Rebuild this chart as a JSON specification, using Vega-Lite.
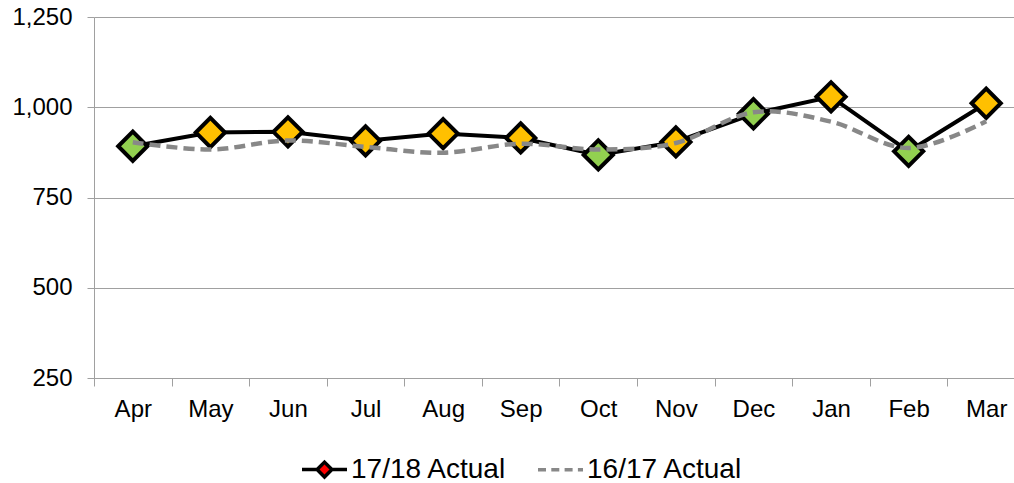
{
  "$schema": "https://vega.github.io/schema/vega-lite/v6.json",
  "width": 931,
  "height": 361,
  "autosize": {"type": "none"},
  "padding": {"left": 94, "top": 17, "right": -11, "bottom": 105},
  "background": "white",
  "config": {"view": {"stroke": null}, "font": "Liberation Sans"},
  "data": {
    "values": [
      {"month": "Apr", "series": "17/18 Actual", "value": 892, "vs_prior": "lower"},
      {"month": "May", "series": "17/18 Actual", "value": 930, "vs_prior": "higher"},
      {"month": "Jun", "series": "17/18 Actual", "value": 932, "vs_prior": "higher"},
      {"month": "Jul", "series": "17/18 Actual", "value": 907, "vs_prior": "higher"},
      {"month": "Aug", "series": "17/18 Actual", "value": 927, "vs_prior": "higher"},
      {"month": "Sep", "series": "17/18 Actual", "value": 915, "vs_prior": "higher"},
      {"month": "Oct", "series": "17/18 Actual", "value": 868, "vs_prior": "lower"},
      {"month": "Nov", "series": "17/18 Actual", "value": 904, "vs_prior": "higher"},
      {"month": "Dec", "series": "17/18 Actual", "value": 982, "vs_prior": "lower"},
      {"month": "Jan", "series": "17/18 Actual", "value": 1029, "vs_prior": "higher"},
      {"month": "Feb", "series": "17/18 Actual", "value": 878, "vs_prior": "lower"},
      {"month": "Mar", "series": "17/18 Actual", "value": 1011, "vs_prior": "higher"},
      {"month": "Apr", "series": "16/17 Actual", "value": 903},
      {"month": "May", "series": "16/17 Actual", "value": 883},
      {"month": "Jun", "series": "16/17 Actual", "value": 908},
      {"month": "Jul", "series": "16/17 Actual", "value": 890},
      {"month": "Aug", "series": "16/17 Actual", "value": 874},
      {"month": "Sep", "series": "16/17 Actual", "value": 899},
      {"month": "Oct", "series": "16/17 Actual", "value": 883},
      {"month": "Nov", "series": "16/17 Actual", "value": 901},
      {"month": "Dec", "series": "16/17 Actual", "value": 986},
      {"month": "Jan", "series": "16/17 Actual", "value": 960},
      {"month": "Feb", "series": "16/17 Actual", "value": 887},
      {"month": "Mar", "series": "16/17 Actual", "value": 961}
    ]
  },
  "encoding": {
    "x": {
      "field": "month",
      "type": "nominal",
      "sort": ["Apr", "May", "Jun", "Jul", "Aug", "Sep", "Oct", "Nov", "Dec", "Jan", "Feb", "Mar"],
      "scale": {"type": "band", "paddingInner": 0, "paddingOuter": 0},
      "axis": {
        "title": null,
        "labelAngle": 0,
        "tickBand": "extent",
        "domainColor": "#a0a0a0",
        "tickColor": "#a0a0a0",
        "tickSize": 8,
        "labelFontSize": 24,
        "labelFont": "Liberation Sans",
        "labelColor": "#000000",
        "labelPadding": 11,
        "grid": false
      }
    },
    "y": {
      "field": "value",
      "type": "quantitative",
      "scale": {"domain": [250, 1250], "nice": false, "zero": false},
      "axis": {
        "title": null,
        "values": [250, 500, 750, 1000, 1250],
        "format": ",.0f",
        "grid": true,
        "gridColor": "#a0a0a0",
        "domainColor": "#a0a0a0",
        "tickColor": "#a0a0a0",
        "tickSize": 7,
        "labelFontSize": 24,
        "labelFont": "Liberation Sans",
        "labelColor": "#000000",
        "labelPadding": 15,
        "labelFlush": false,
        "labelOverlap": false
      }
    }
  },
  "layer": [
    {
      "transform": [{"filter": "datum.series === '17/18 Actual'"}],
      "mark": {"type": "line", "strokeWidth": 4},
      "encoding": {
        "color": {
          "field": "series",
          "type": "nominal",
          "scale": {"domain": ["17/18 Actual", "16/17 Actual"], "range": ["#000000", "#888888"]},
          "legend": {
            "title": null,
            "orient": "none",
            "legendX": 206,
            "legendY": 428,
            "direction": "horizontal",
            "padding": 0,
            "symbolSize": 2025,
            "symbolStrokeWidth": 4,
            "labelFontSize": 28,
            "labelFont": "Liberation Sans",
            "labelColor": "#000000",
            "labelOffset": 2,
            "columnPadding": 24,
            "encode": {
              "symbols": {
                "update": {
                  "shape": {"signal": "datum.value === '17/18 Actual' ? 'M-1,0H-0.33M0.33,0H1M0,-0.33L0.33,0L0,0.33L-0.33,0Z' : 'stroke'"},
                  "fill": {"signal": "datum.value === '17/18 Actual' ? '#ff0000' : 'transparent'"},
                  "stroke": {"signal": "datum.value === '17/18 Actual' ? '#000000' : '#888888'"},
                  "strokeDash": {"signal": "datum.value === '17/18 Actual' ? [] : [8, 5.3]"},
                  "strokeWidth": {"value": 3.5},
                  "opacity": {"value": 1}
                }
              }
            }
          }
        }
      }
    },
    {
      "transform": [{"filter": "datum.series === '17/18 Actual'"}],
      "mark": {"type": "point", "shape": "diamond", "filled": true, "size": 850, "stroke": "#000000", "strokeWidth": 4, "opacity": 1},
      "encoding": {
        "fill": {
          "field": "vs_prior",
          "type": "nominal",
          "scale": {"domain": ["lower", "higher"], "range": ["#92D050", "#FFC000"]},
          "legend": null
        }
      }
    },
    {
      "transform": [{"filter": "datum.series === '16/17 Actual'"}],
      "mark": {"type": "line", "strokeWidth": 4.5, "strokeDash": [11, 6], "interpolate": "cardinal"},
      "encoding": {
        "color": {"field": "series", "type": "nominal"}
      }
    }
  ]
}
